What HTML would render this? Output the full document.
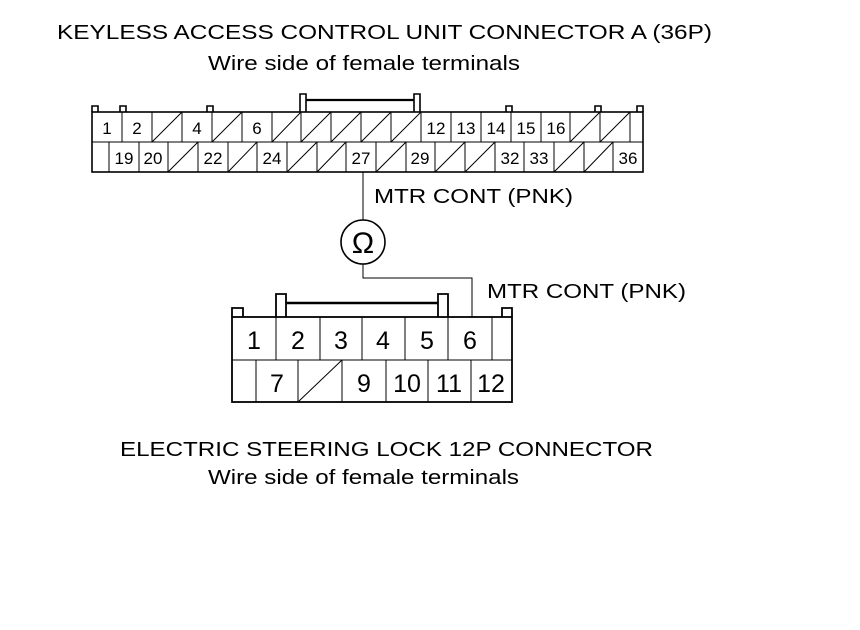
<!DOCTYPE html>
<html><head><meta charset="utf-8"><style>
html,body{margin:0;padding:0;background:#fff;}
svg{display:block;}
text{font-family:"Liberation Sans",Arial,sans-serif;fill:#000;}
</style></head><body>
<svg width="860" height="630" viewBox="0 0 860 630" xmlns="http://www.w3.org/2000/svg">
<rect width="860" height="630" fill="#fff"/>
<text x="57" y="39" font-size="20" textLength="655" lengthAdjust="spacingAndGlyphs">KEYLESS ACCESS CONTROL UNIT CONNECTOR A (36P)</text>
<text x="208" y="70" font-size="20" textLength="312" lengthAdjust="spacingAndGlyphs">Wire side of female terminals</text>

<g fill="none" stroke="#000" stroke-width="1.6">
<rect x="92" y="112" width="551" height="60"/>
<path d="M92,112V106H98V112 M120,112V106H126V112 M207,112V106H213V112 M506,112V106H512V112 M595,112V106H601V112 M637,112V106H643V112"/>
<path d="M300,112V94H306V112 M414,112V94H420V112"/>
<line x1="306" y1="100" x2="414" y2="100" stroke-width="2.2"/>
</g>
<g stroke="#000" stroke-width="1">
<line x1="92" y1="142" x2="643" y2="142"/>
<path d="M122,112V142M152,112V142M182,112V142M212,112V142M242,112V142M272,112V142M301,112V142M331,112V142M361,112V142M391,112V142M421,112V142M451,112V142M481,112V142M511,112V142M541,112V142M570,112V142M600,112V142M630,112V142"/>
<path d="M152,142L182,112M212,142L242,112M272,142L301,112M301,142L331,112M331,142L361,112M361,142L391,112M391,142L421,112M570,142L600,112M600,142L630,112"/>
<path d="M109,142V172M139,142V172M168,142V172M198,142V172M228,142V172M257,142V172M287,142V172M317,142V172M346,142V172M376,142V172M406,142V172M435,142V172M465,142V172M495,142V172M524,142V172M554,142V172M584,142V172M613,142V172"/>
<path d="M168,172L198,142M228,172L257,142M287,172L317,142M317,172L346,142M376,172L406,142M435,172L465,142M465,172L495,142M554,172L584,142M584,172L613,142"/>
</g>
<g font-size="17" text-anchor="middle">
<text x="107" y="134">1</text><text x="137" y="134">2</text><text x="197" y="134">4</text><text x="257" y="134">6</text>
<text x="436" y="134">12</text><text x="466" y="134">13</text><text x="496" y="134">14</text><text x="526" y="134">15</text><text x="556" y="134">16</text>
<text x="124" y="164">19</text><text x="153" y="164">20</text><text x="213" y="164">22</text><text x="272" y="164">24</text>
<text x="361" y="164">27</text><text x="420" y="164">29</text><text x="510" y="164">32</text><text x="539" y="164">33</text><text x="628" y="164">36</text>
</g>

<g fill="none" stroke="#000" stroke-width="1">
<path d="M363,172V220 M363,264V278H472V317"/>
<circle cx="363" cy="242" r="22" stroke-width="1.6"/>
</g>
<text x="363" y="253" font-size="30" text-anchor="middle">Ω</text>
<text x="374" y="203" font-size="20" textLength="199" lengthAdjust="spacingAndGlyphs">MTR CONT (PNK)</text>
<text x="487" y="298" font-size="20" textLength="199" lengthAdjust="spacingAndGlyphs">MTR CONT (PNK)</text>

<g fill="none" stroke="#000" stroke-width="1.8">
<rect x="232" y="317" width="280" height="85"/>
<path d="M232,317V308H243V317 M502,317V308H512V317"/>
<path d="M276,317V294H286V317 M438,317V294H448V317"/>
<line x1="286" y1="303" x2="438" y2="303" stroke-width="2.4"/>
</g>
<g stroke="#000" stroke-width="1">
<line x1="232" y1="360" x2="512" y2="360"/>
<path d="M276,317V360M320,317V360M362,317V360M405,317V360M448,317V360M492,317V360"/>
<path d="M256,360V402M298,360V402M342,360V402M386,360V402M428,360V402M471,360V402"/>
<path d="M298,402L342,360"/>
</g>
<g font-size="25" text-anchor="middle">
<text x="254" y="349">1</text><text x="298" y="349">2</text><text x="341" y="349">3</text><text x="383" y="349">4</text><text x="427" y="349">5</text><text x="470" y="349">6</text>
<text x="277" y="392">7</text><text x="364" y="392">9</text><text x="407" y="392">10</text><text x="449" y="392">11</text><text x="491" y="392">12</text>
</g>

<text x="120" y="456" font-size="20" textLength="533" lengthAdjust="spacingAndGlyphs">ELECTRIC STEERING LOCK 12P CONNECTOR</text>
<text x="208" y="484" font-size="20" textLength="311" lengthAdjust="spacingAndGlyphs">Wire side of female terminals</text>
</svg>
</body></html>
